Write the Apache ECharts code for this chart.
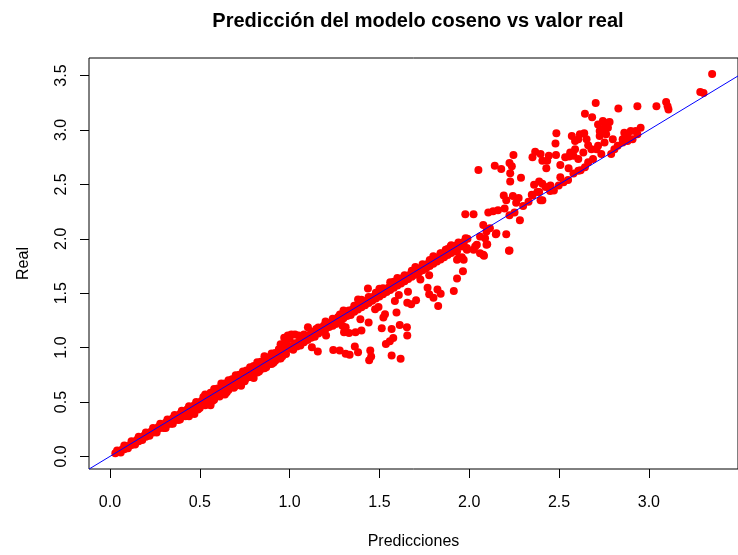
<!DOCTYPE html>
<html>
<head>
<meta charset="utf-8">
<script src="https://cdn.jsdelivr.net/npm/echarts@6/dist/echarts.min.js"></script>
<style>
  html, body { margin: 0; padding: 0; background: #fff; }
  #chart { width: 738px; height: 555px; }
</style>
</head>
<body>
<div id="chart"></div>
<script>
// Observed (predicción, real) pairs, grouped by region of the fit.
const bandLow = [
  [0.03,0.03],[0.05,0.05],[0.07,0.065],[0.09,0.09],[0.11,0.10],[0.13,0.125],[0.15,0.15],[0.17,0.165],
  [0.19,0.19],[0.21,0.205],[0.23,0.23],[0.25,0.245],[0.27,0.27],[0.29,0.285],[0.31,0.31],[0.33,0.325],
  [0.35,0.35],[0.37,0.365],[0.39,0.39],[0.41,0.40],[0.43,0.43],[0.45,0.445],[0.47,0.47],[0.49,0.48],
  [0.51,0.51],[0.53,0.525],[0.55,0.55],[0.57,0.56],[0.59,0.59],[0.61,0.605],[0.63,0.63],[0.65,0.645],
  [0.67,0.67],[0.69,0.68],[0.71,0.71],[0.73,0.725],[0.75,0.75],[0.77,0.765],[0.79,0.79],[0.81,0.80],
  [0.83,0.83],[0.85,0.845],[0.87,0.87],[0.89,0.88],[0.91,0.91],[0.93,0.925],[0.95,0.95],[0.97,0.965],[0.99,0.99],
  [0.06,0.035],[0.10,0.075],[0.14,0.11],[0.18,0.15],[0.22,0.19],[0.26,0.22],[0.30,0.26],[0.34,0.30],
  [0.38,0.335],[0.42,0.37],[0.46,0.41],[0.50,0.445],[0.54,0.48],[0.58,0.52],[0.62,0.57],[0.66,0.61],
  [0.70,0.65],[0.74,0.69],[0.78,0.73],[0.82,0.77],[0.86,0.81],[0.90,0.85],[0.94,0.90],[0.98,0.94],
  [0.47,0.39],[0.56,0.47],[0.73,0.65],[0.80,0.72],[0.44,0.37],[0.64,0.57],
  [0.04,0.055],[0.08,0.10],[0.12,0.14],[0.16,0.18],[0.20,0.22],[0.24,0.26],[0.28,0.30],[0.32,0.34],
  [0.36,0.38],[0.40,0.42],[0.44,0.46],[0.48,0.50],[0.52,0.545],[0.56,0.585],[0.60,0.625],[0.64,0.67],
  [0.68,0.71],[0.72,0.75],[0.76,0.79],[0.80,0.83],[0.84,0.87],[0.88,0.91],[0.92,0.95],[0.96,0.995],
  [0.62,0.67],[0.86,0.92],[0.95,1.03],
  [0.08,0.065],[0.12,0.105],[0.16,0.14],[0.20,0.18],[0.24,0.22],[0.28,0.26],[0.32,0.295],[0.36,0.335],
  [0.40,0.375],[0.44,0.41],[0.48,0.45],[0.52,0.49],[0.56,0.53],[0.60,0.565],[0.64,0.605],[0.68,0.645],
  [0.72,0.685],[0.76,0.72],[0.80,0.765],[0.84,0.80],[0.88,0.845],[0.92,0.88],[0.96,0.92],
  [0.31,0.26],[0.35,0.30],[0.39,0.34],[0.43,0.38],[0.49,0.43],[0.53,0.47],[0.57,0.51],[0.61,0.55],
  [0.65,0.59],[0.69,0.63],[0.75,0.69],[0.79,0.73],[0.83,0.78],[0.87,0.82],[0.91,0.86],[0.95,0.90],
  [0.53,0.57],[0.58,0.62],[0.66,0.70],[0.70,0.745],[0.74,0.78],[0.78,0.82],[0.82,0.865],[0.90,0.945],
  [0.94,0.985],[0.98,1.03]
];

const bandMid = [
  [1.01,1.01],[1.03,1.04],[1.05,1.05],[1.07,1.08],[1.09,1.09],[1.11,1.11],[1.13,1.14],[1.15,1.15],
  [1.17,1.17],[1.19,1.20],[1.21,1.21],[1.23,1.23],[1.25,1.25],[1.27,1.28],[1.29,1.29],[1.31,1.31],
  [1.33,1.34],[1.35,1.35],[1.37,1.37],[1.39,1.40],[1.41,1.41],[1.43,1.43],[1.45,1.46],[1.47,1.47],
  [1.49,1.49],[1.51,1.52],[1.53,1.53],[1.55,1.55],[1.57,1.58],[1.59,1.59],[1.61,1.61],[1.63,1.64],
  [1.65,1.65],[1.67,1.67],[1.69,1.70],[1.71,1.71],[1.73,1.73],[1.75,1.76],[1.77,1.77],[1.79,1.79],
  [1.81,1.82],[1.83,1.83],[1.85,1.85],[1.87,1.88],[1.89,1.89],[1.91,1.91],[1.93,1.94],[1.95,1.95],
  [1.97,1.97],[1.99,2.00],
  [1.02,0.98],[1.06,1.02],[1.10,1.07],[1.14,1.10],[1.18,1.15],[1.24,1.20],[1.28,1.25],[1.34,1.30],
  [1.38,1.35],[1.42,1.39],[1.46,1.43],[1.50,1.47],[1.54,1.51],[1.58,1.55],[1.62,1.59],[1.66,1.63],
  [1.70,1.67],[1.74,1.71],[1.78,1.75],[1.82,1.79],[1.86,1.83],[1.90,1.87],
  [0.97,1.09],[0.99,1.11],[1.01,1.12],[1.03,1.12],[1.05,1.11],[1.08,1.12],[1.00,1.08],
  [1.20,1.24],[1.30,1.34],[1.40,1.44],[1.50,1.54],[1.56,1.60],[1.60,1.64],[1.70,1.74],[1.80,1.84],[1.90,1.94],
  [1.04,1.01],[1.08,1.05],[1.12,1.09],[1.16,1.13],[1.20,1.17],[1.22,1.19],[1.26,1.23],[1.30,1.27],
  [1.32,1.29],[1.36,1.33],[1.40,1.37],[1.44,1.41],[1.48,1.45],[1.52,1.49],[1.56,1.53],[1.60,1.57],
  [1.64,1.61],[1.68,1.65],[1.72,1.69],[1.76,1.73],[1.80,1.77],[1.84,1.81],[1.88,1.85],[1.92,1.89],[1.96,1.93],
  [1.12,1.145],[1.16,1.185],[1.24,1.265],[1.28,1.305],[1.36,1.385],[1.44,1.465],[1.48,1.505],[1.52,1.545],
  [1.58,1.605],[1.64,1.665],[1.68,1.705],[1.74,1.765],[1.78,1.805],[1.84,1.865],[1.88,1.905],[1.94,1.965],[1.98,2.005]
];

const scatterMid = [
  [1.124,1.004],[1.157,0.964],[1.243,0.979],[1.279,0.974],[1.312,0.943],[1.334,0.934],[1.363,1.010],
  [1.381,0.958],[1.449,0.974],[1.454,0.919],[1.443,0.883],[1.568,0.928],[1.618,0.897],[1.536,1.034],
  [1.558,1.058],[1.577,1.088],[1.653,1.186],[1.655,1.110],[1.613,1.207],[1.568,1.170],[1.513,1.177],
  [1.303,1.140],[1.331,1.134],[1.367,1.140],[1.400,1.156],[1.257,1.216],[1.294,1.201],[1.312,1.186],
  [1.102,1.186],[1.148,1.170],[1.193,1.156],[1.203,1.110],[1.394,1.261],[1.440,1.231],[1.476,1.352],
  [1.495,1.374],[1.522,1.277],[1.531,1.307],[1.436,1.543],[1.381,1.443],[1.595,1.322],[1.586,1.429],
  [1.608,1.483],[1.659,1.513],[1.655,1.413],[1.677,1.398],[1.704,1.434],[1.768,1.550],[1.777,1.489],
  [1.801,1.459],[1.823,1.534],[1.827,1.383],[1.841,1.495],[1.777,1.665],[1.728,1.625],[1.914,1.520],
  [1.932,1.634],[1.965,1.701],[1.932,1.807],[1.959,1.829],[1.987,1.898],[2.033,1.929],[2.060,1.868],
  [2.082,1.843],[2.096,1.944],[2.148,2.041],[2.206,2.041],[2.224,1.893]
];

const scatterHigh = [
  [3.352,3.515],[3.286,3.349],[3.304,3.339],[3.096,3.257],[3.104,3.217],[3.109,3.187],[3.042,3.217],
  [2.936,3.217],[2.830,3.197],[2.704,3.248],[2.644,3.148],[2.684,3.117],[2.485,2.969],[2.480,2.875],
  [2.051,2.632],[2.142,2.672],[2.178,2.641],[2.224,2.696],[2.237,2.666],[2.228,2.602],[2.228,2.526],
  [2.288,2.560],[2.246,2.769],[1.978,2.226],[2.024,2.226],[2.106,2.241],[2.133,2.253],[2.160,2.262],
  [2.192,2.398],[2.206,2.353],[2.243,2.393],[2.261,2.332],[2.275,2.375],[2.197,2.277],[2.224,2.216],
  [2.252,2.241],[2.282,2.171],[2.348,2.405],[2.379,2.429],[2.397,2.353],[2.078,2.126],[2.096,2.066],
  [2.115,2.096],[2.060,2.020],[2.088,2.005],[2.151,2.050],[2.042,1.944],[2.078,1.853],[2.024,1.898],
  [2.221,1.889],[2.100,1.950],[1.941,1.822],[1.969,1.807],[1.932,1.883],[1.987,1.914],[1.841,1.868],
  [1.869,1.898],[1.896,1.929],[1.814,1.822],
  [2.361,2.496],[2.389,2.526],[2.407,2.505],[2.425,2.475],[2.452,2.490],[2.471,2.444],[2.389,2.429],
  [2.352,2.398],[2.407,2.353],[2.507,2.566],[2.498,2.490],[2.525,2.520],
  [2.352,2.748],[2.367,2.799],[2.397,2.778],[2.407,2.717],[2.434,2.717],[2.443,2.763],[2.429,2.648],
  [2.483,2.769],[2.507,2.678],[2.553,2.648],[2.534,2.748],[2.556,2.757],
  [2.571,2.944],[2.589,2.899],[2.607,2.914],[2.616,2.960],
  [2.562,2.793],[2.580,2.763],[2.607,2.732],[2.589,2.823],[2.635,2.793],[2.644,2.657],[2.607,2.626],
  [2.662,2.702],[2.689,2.732],[2.680,2.823],[2.653,2.914],[2.662,2.860],[2.640,2.969],
  [2.717,3.051],[2.735,3.006],[2.753,3.067],[2.772,3.021],[2.762,2.960],[2.726,2.944],[2.781,3.072],
  [2.717,2.854],[2.753,2.884],[2.799,2.914],[2.735,2.778],[2.708,2.823],
  [2.808,2.823],[2.826,2.854],[2.854,2.884],[2.790,2.778],
  [2.863,2.975],[2.881,2.944],[2.899,2.990],[2.927,2.990],[2.954,3.021],[2.909,2.914],[2.881,2.899],
  [2.854,2.914],[2.936,2.960],[2.744,3.081],[2.772,3.067],[2.726,2.990],[2.753,3.005],
  [2.30,2.30],[2.33,2.34],[2.45,2.44],[2.55,2.54],[2.58,2.60],[2.62,2.63]
];

// Axis ticks
const xTicks = [0, 0.5, 1.0, 1.5, 2.0, 2.5, 3.0];
const yTicks = [0, 0.5, 1.0, 1.5, 2.0, 2.5, 3.0, 3.5];

// Reference line real = predicción (intercept 0, slope 1)
const refIntercept = 0;
const refSlope = 1;

const titleText = 'Predicción del modelo coseno vs valor real';
const xName = 'Predicciones';
const yName = 'Real';

const xMin = -0.1166, xMax = 3.496;
const yMin = -0.1156, yMax = 3.661;

const points = bandLow.concat(bandMid, scatterMid, scatterHigh);
const refLine = [xMin, xMax].map(x => [x, refIntercept + refSlope * x]);

const FONT = '"Liberation Sans", Arial, sans-serif';

const chart = echarts.init(document.getElementById('chart'), null, { renderer: 'canvas' });
chart.setOption({
  animation: false,
  backgroundColor: '#ffffff',
  graphic: [{
    type: 'text',
    x: 418, y: 21,
    style: {
      text: titleText,
      font: 'bold 20px ' + FONT,
      fill: '#000',
      align: 'center', verticalAlign: 'middle',
      textAlign: 'center', textVerticalAlign: 'middle'
    }
  }],
  grid: {
    left: 89, top: 58, width: 660, height: 415,
    show: true, borderColor: '#000', borderWidth: 1,
    backgroundColor: 'transparent', containLabel: false
  },
  xAxis: {
    type: 'value', min: xMin, max: xMax,
    name: xName, nameLocation: 'middle', nameGap: 65, nameMoveOverlap: false,
    nameTextStyle: { fontFamily: FONT, fontSize: 16, color: '#000' },
    axisLine: { show: false, onZero: false },
    splitLine: { show: false },
    axisTick: { show: true, inside: false, length: 9, customValues: xTicks, lineStyle: { color: '#000', width: 1 } },
    axisLabel: {
      customValues: xTicks, margin: 26,
      fontFamily: FONT, fontSize: 16, color: '#000',
      formatter: v => v.toFixed(1)
    }
  },
  yAxis: {
    type: 'value', min: yMin, max: yMax,
    name: yName, nameLocation: 'middle', nameGap: 57, nameMoveOverlap: false,
    nameTextStyle: { fontFamily: FONT, fontSize: 16, color: '#000' },
    axisLine: { show: false, onZero: false },
    splitLine: { show: false },
    axisTick: { show: true, inside: false, length: 9, customValues: yTicks, lineStyle: { color: '#000', width: 1 } },
    axisLabel: {
      customValues: yTicks, margin: 19, rotate: 90,
      fontFamily: FONT, fontSize: 16, color: '#000',
      formatter: v => v.toFixed(1)
    }
  },
  series: [
    {
      type: 'scatter',
      data: points,
      symbol: 'circle',
      symbolSize: 8,
      itemStyle: { color: '#ff0000', opacity: 1 },
      emphasis: { disabled: true },
      silent: true
    },
    {
      type: 'line',
      data: refLine,
      symbol: 'none',
      clip: true,
      lineStyle: { color: '#0000ff', width: 1 },
      emphasis: { disabled: true },
      silent: true
    }
  ]
});
</script>
</body>
</html>
